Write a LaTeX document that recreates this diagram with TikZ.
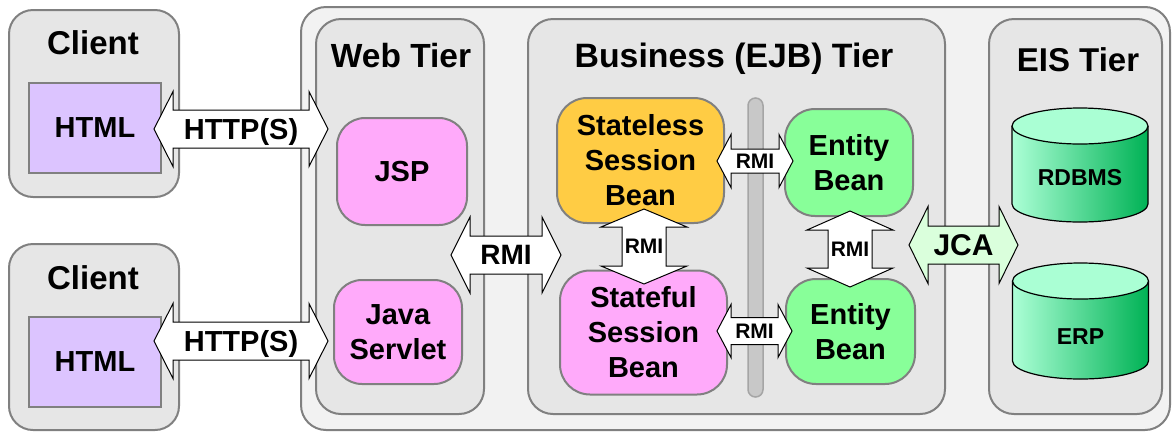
\documentclass[tikz,border=0pt]{standalone}
\usepackage{fontspec}
\setmainfont{Liberation Sans}
\usetikzlibrary{calc}
\definecolor{outerfill}{RGB}{242,242,242}
\definecolor{tierfill}{RGB}{230,230,230}
\definecolor{boxline}{RGB}{128,128,128}
\definecolor{htmlfill}{RGB}{220,196,255}
\definecolor{pinkfill}{RGB}{255,170,250}
\definecolor{orangefill}{RGB}{255,204,68}
\definecolor{greenfill}{RGB}{136,255,153}
\definecolor{jcafill}{RGB}{218,255,220}
\definecolor{barfill}{RGB}{200,200,200}
\definecolor{barline}{RGB}{165,165,165}
\definecolor{cylleft}{RGB}{172,255,214}
\definecolor{cylright}{RGB}{0,178,85}
\definecolor{cyltop}{RGB}{170,255,212}

% horizontal block double arrow around a named centre
% #1 centre, #2 half length, #3 head length, #4 half shaft, #5 half head, #6 fill
\newcommand\hblock[6]{%
  \filldraw[blockline, fill=#6]
    ($(#1)+(-#2,0)$) -- ($(#1)+({-#2+#3},-#5)$) -- ($(#1)+({-#2+#3},-#4)$)
    -- ($(#1)+({#2-#3},-#4)$) -- ($(#1)+({#2-#3},-#5)$) -- ($(#1)+(#2,0)$)
    -- ($(#1)+({#2-#3},#5)$) -- ($(#1)+({#2-#3},#4)$) -- ($(#1)+({-#2+#3},#4)$)
    -- ($(#1)+({-#2+#3},#5)$) -- cycle;}
% vertical block double arrow around a named centre
\newcommand\vblock[6]{%
  \filldraw[blockline, fill=#6]
    ($(#1)+(0,-#2)$) -- ($(#1)+(-#5,{-#2+#3})$) -- ($(#1)+(-#4,{-#2+#3})$)
    -- ($(#1)+(-#4,{#2-#3})$) -- ($(#1)+(-#5,{#2-#3})$) -- ($(#1)+(0,#2)$)
    -- ($(#1)+(#5,{#2-#3})$) -- ($(#1)+(#4,{#2-#3})$) -- ($(#1)+(#4,{-#2+#3})$)
    -- ($(#1)+(#5,{-#2+#3})$) -- cycle;}
% database cylinder: #1 name, #2 centre x, #3 top y, #4 bottom y, #5 label y, #6 label
\newcommand\dbcyl[6]{%
  \shade[left color=cylleft, right color=cylright]
    ({#2-68},#3) -- ({#2-68},#4)
    .. controls ({#2-68},{#4+9.94}) and ({#2-37.56},{#4+18}) .. (#2,{#4+18})
    .. controls ({#2+37.56},{#4+18}) and ({#2+68},{#4+9.94}) .. ({#2+68},#4)
    -- ({#2+68},#3) -- cycle;
  \draw[line width=1.2pt]
    ({#2-68},#3) -- ({#2-68},#4)
    .. controls ({#2-68},{#4+9.94}) and ({#2-37.56},{#4+18}) .. (#2,{#4+18})
    .. controls ({#2+37.56},{#4+18}) and ({#2+68},{#4+9.94}) .. ({#2+68},#4)
    -- ({#2+68},#3);
  \filldraw[fill=cyltop, line width=1.2pt] (#2,#3) ellipse [x radius=68pt, y radius=18pt];
  \node[cyltxt] (#1) at (#2,#5) {#6};}

\begin{document}
\begin{tikzpicture}[x=1pt,y=-1pt,
  container/.style={draw=boxline, line width=2pt, rounded corners=#1, inner sep=0pt},
  container/.default=25pt,
  blockline/.style={draw=black, line width=1pt, line join=miter},
  titletxt/.style={font=\fontsize{33}{39}\selectfont\bfseries, inner sep=0pt, text depth=0pt},
  boxtxt/.style={font=\fontsize{29}{35}\selectfont\bfseries, align=center},
  arrowtxt/.style={font=\fontsize{29}{35}\selectfont\bfseries, inner sep=0pt, text depth=0pt},
  smalltxt/.style={font=\fontsize{21}{25}\selectfont\bfseries, inner sep=0pt},
  cyltxt/.style={font=\fontsize{23}{27}\selectfont\bfseries, inner sep=0pt}
]
\useasboundingbox (0,0) rectangle (1172,432);

% containers
\node[container=25pt, fill=outerfill, minimum width=869pt, minimum height=423pt] (outer) at (735.5,218.5) {};
\node[container=24pt, fill=tierfill, minimum width=170pt, minimum height=187pt] (client1) at (94,103.5) {};
\node[container=24pt, fill=tierfill, minimum width=170pt, minimum height=186pt] (client2) at (94,337) {};
\node[container=25pt, fill=tierfill, minimum width=168pt, minimum height=395pt] (web) at (400,216.5) {};
\node[container=25pt, fill=tierfill, minimum width=417pt, minimum height=395pt] (biz) at (736.5,216.5) {};
\node[container=25pt, fill=tierfill, minimum width=173pt, minimum height=395pt] (eis) at (1075.5,216.5) {};

% titles
\node[titletxt] (client1t) at (93,43) {Client};
\node[titletxt] (client2t) at (93,278) {Client};
\node[titletxt, font=\fontsize{33.5}{39}\selectfont\bfseries] (webt) at (401,55) {Web Tier};
\node[titletxt, font=\fontsize{33.8}{39}\selectfont\bfseries] (bizt) at (734,55) {Business (EJB) Tier};
\node[titletxt] (eist) at (1078,60) {EIS Tier};

% separator bar
\node[draw=barline, line width=1.5pt, fill=barfill, rounded corners=7.5pt, minimum width=15pt, minimum height=299pt, inner sep=0pt] (bar) at (755.5,247.5) {};

% components
\node[draw=boxline, line width=2pt, fill=htmlfill, minimum width=132pt, minimum height=90pt, inner sep=0pt, boxtxt] (html1) at (95,128) {HTML};
\node[draw=boxline, line width=2pt, fill=htmlfill, minimum width=132pt, minimum height=90pt, inner sep=0pt, boxtxt] (html2) at (95,362) {HTML};
\node[container=28pt, fill=pinkfill, minimum width=130pt, minimum height=107pt, boxtxt] (jsp) at (402,171.5) {JSP};
\node[container=28pt, fill=pinkfill, minimum width=128pt, minimum height=104pt, boxtxt] (servlet) at (398,332) {Java\\Servlet};
\node[container=30pt, fill=orangefill, minimum width=167pt, minimum height=125pt, boxtxt] (stateless) at (640.5,160.5) {Stateless\\Session\\Bean};
\node[container=30pt, fill=pinkfill, minimum width=167pt, minimum height=124pt, boxtxt] (stateful) at (643.5,332.5) {Stateful\\Session\\Bean};
\node[container=30pt, fill=greenfill, minimum width=128pt, minimum height=107pt, boxtxt] (entity1) at (849,162.5) {Entity\\Bean};
\node[container=30pt, fill=greenfill, minimum width=129pt, minimum height=105pt, boxtxt] (entity2) at (850.5,331.5) {Entity\\Bean};

% EIS resources
\dbcyl{rdbms}{1080}{126}{204}{178}{RDBMS}
\dbcyl{erp}{1080.5}{281}{361}{337}{ERP}

% connectors (block double arrows)
\coordinate (http1) at (241,129);
\coordinate (http2) at (241,341);
\coordinate (rmiweb) at (506,255);
\coordinate (rmitop) at (755,161);
\coordinate (rmibot) at (754.5,331);
\coordinate (rmisess) at (644,246.5);
\coordinate (rmient) at (850,249);
\coordinate (jca) at (963.5,245);

\hblock{http1}{87}{19}{19}{37.5}{white}
\hblock{http2}{87}{19}{19}{37.5}{white}
\hblock{rmiweb}{55}{19}{19}{38}{white}
\hblock{rmitop}{38}{14}{12}{26.5}{white}
\hblock{rmibot}{37.5}{14}{13.5}{26.5}{white}
\vblock{rmisess}{37.5}{18}{22}{43}{white}
\vblock{rmient}{38}{19}{22}{43}{white}
\hblock{jca}{54.5}{19}{19}{38.5}{jcafill}

\node[arrowtxt] (http1t) at (http1) {HTTP(S)};
\node[arrowtxt] (http2t) at (http2) {HTTP(S)};
\node[arrowtxt, font=\fontsize{28}{33}\selectfont\bfseries] (rmiwebt) at (rmiweb) {RMI};
\node[smalltxt] (rmitopt) at (rmitop) {RMI};
\node[smalltxt] (rmibott) at (rmibot) {RMI};
\node[smalltxt] (rmisesst) at (rmisess) {RMI};
\node[smalltxt] (rmientt) at (rmient) {RMI};
\node[arrowtxt, font=\fontsize{30}{35}\selectfont\bfseries] (jcat) at (jca) {JCA};
\end{tikzpicture}
\end{document}
